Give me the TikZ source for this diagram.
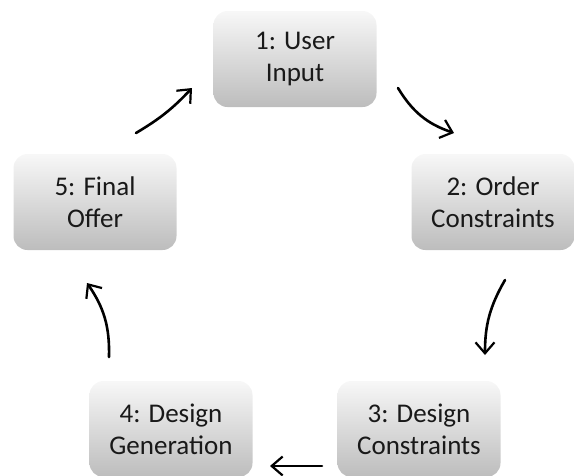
\documentclass[tikz,border=0pt]{standalone}
\usepackage{fontspec}
\setmainfont{Carlito}
\usetikzlibrary{arrows.meta}
\begin{document}
\begin{tikzpicture}[x=1pt, y=-1pt,
	stepbox/.style={rounded corners=14pt, minimum width=163pt, minimum height=96pt,
		top color=black!3, bottom color=black!26, align=center,
		font=\fontsize{27}{32}\selectfont, text=black!90},
	sketch/.style={line width=2.6pt, line cap=round, -{Straight Barb[length=11pt,width=19pt,line width=2.2pt]}}]
	\useasboundingbox (0,0) rectangle (574,475);
	\node[stepbox] (input)   at (295,59)  {1: User\\Input};
	\node[stepbox] (order)   at (493,202) {2: Order\\Constraints};
	\node[stepbox] (design)  at (419,429) {3: Design\\Constraints};
	\node[stepbox] (gen)     at (171,429) {4: Design\\Generation};
	\node[stepbox] (offer)   at (95,202)  {5: Final\\Offer};
	%Pfeile
	\coordinate (a1) at (136,133); \coordinate (b1) at (192,88);
	\coordinate (a2) at (398,88);  \coordinate (b2) at (454,133);
	\coordinate (a3) at (505,280); \coordinate (b3) at (485,355);
	\coordinate (a4) at (322,466); \coordinate (b4) at (270,466);
	\coordinate (a5) at (109,357); \coordinate (b5) at (87,283);
	\draw[sketch] (a1) to[bend right=8]  (b1);
	\draw[sketch] (a2) to[bend right=20] (b2);
	\draw[sketch] (a3) to[bend right=15] (b3);
	\draw[sketch] (a4) -- (b4);
	\draw[sketch] (a5) to[bend right=18] (b5);
\end{tikzpicture}
\end{document}
